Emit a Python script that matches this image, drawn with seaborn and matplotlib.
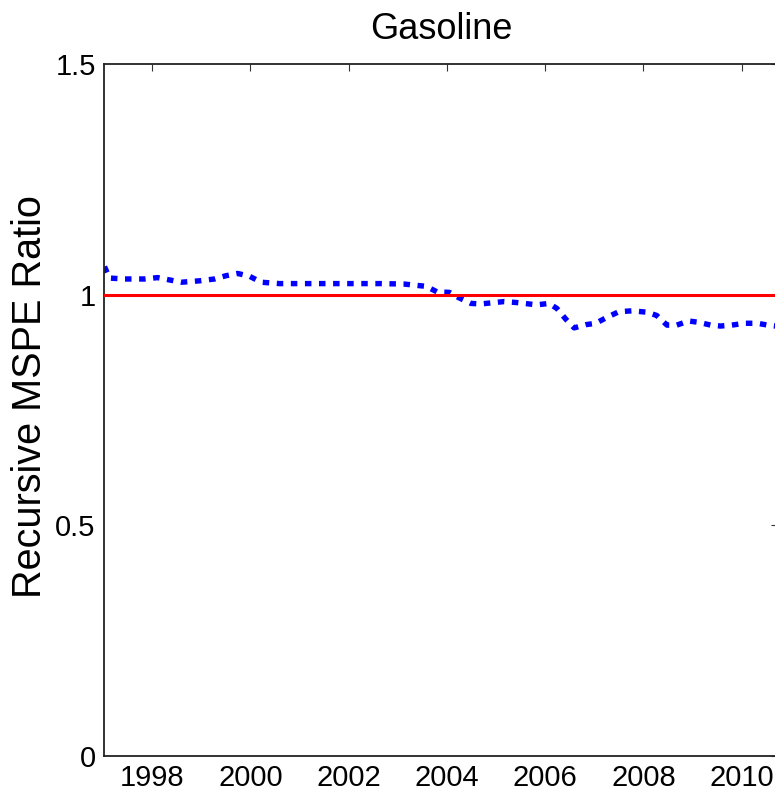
import matplotlib
matplotlib.use("Agg")
import matplotlib.pyplot as plt
import seaborn as sns
import pandas as pd

# ---- data ----
years = [1997.03, 1997.13, 1997.44, 1997.85, 1998.11, 1998.35, 1998.60, 1998.96,
         1999.27, 1999.50, 1999.74, 1999.98, 2000.22, 2000.59, 2000.99, 2001.40,
         2001.81, 2002.25, 2002.66, 2003.13, 2003.58, 2003.80, 2004.05, 2004.25,
         2004.49, 2004.70, 2005.16, 2005.41, 2005.83, 2006.08, 2006.24, 2006.42,
         2006.59, 2006.83, 2007.03, 2007.26, 2007.50, 2007.77, 2008.07, 2008.27,
         2008.48, 2008.68, 2008.92, 2009.13, 2009.37, 2009.57, 2009.80, 2010.06,
         2010.32, 2010.53, 2010.70]
mspe_ratio = [1.061, 1.036, 1.034, 1.034, 1.037, 1.032, 1.027, 1.030,
              1.034, 1.041, 1.046, 1.040, 1.027, 1.024, 1.024, 1.024,
              1.024, 1.024, 1.024, 1.023, 1.018, 1.006, 1.005, 0.993,
              0.981, 0.980, 0.985, 0.983, 0.978, 0.981, 0.970, 0.947,
              0.928, 0.935, 0.938, 0.951, 0.963, 0.965, 0.962, 0.955,
              0.934, 0.934, 0.943, 0.940, 0.934, 0.932, 0.934, 0.938,
              0.938, 0.934, 0.932]
benchmark = 1.0
x_ticks = [1998, 2000, 2002, 2004, 2006, 2008, 2010]
y_ticks = [0, 0.5, 1, 1.5]
y_tick_labels = ["0", "0.5", "1", "1.5"]
title = "Gasoline"
y_label = "Recursive MSPE Ratio"

df = pd.DataFrame({"year": years, "ratio": mspe_ratio})
x_lo, x_hi = 1997.02, 2010.70 + 0.04
bench_df = pd.DataFrame({"year": [x_lo, x_hi], "ratio": [benchmark, benchmark]})

sns.set_style("white")
plt.rcParams["font.family"] = ["Liberation Sans", "DejaVu Sans"]
plt.rcParams["text.color"] = "black"
plt.rcParams["axes.labelcolor"] = "black"
plt.rcParams["xtick.color"] = "black"
plt.rcParams["ytick.color"] = "black"

fig = plt.figure(figsize=(7.75, 7.92), dpi=100)
ax = fig.add_axes([104 / 775, 1 - 756 / 792, (778 - 104) / 775, (756 - 64) / 792])

sns.lineplot(data=df, x="year", y="ratio", ax=ax, color="#0000ff",
             linewidth=3.9, linestyle=(0, (1.2, 1.4)), dash_capstyle="butt",
             zorder=2)
sns.lineplot(data=bench_df, x="year", y="ratio", ax=ax, color="#ff0000",
             linewidth=2.2, zorder=3)

ax.set_xlim(x_lo, x_hi)
ax.set_ylim(0, 1.5)
ax.set_xticks(x_ticks)
ax.set_xticklabels([str(t) for t in x_ticks])
ax.set_yticks(y_ticks)
ax.set_yticklabels(y_tick_labels)
ax.tick_params(axis="both", direction="in", length=5, width=0.8,
               labelsize=21, labelcolor="black", top=True, right=True, pad=6)
ax.tick_params(axis="both", color="#333333")
for s in ax.spines.values():
    s.set_visible(True)
    s.set_color("#222222")
    s.set_linewidth(1.3)
ax.set_xlabel("")
ax.set_ylabel(y_label, fontsize=28.5, color="black", va="center")
ax.yaxis.set_label_coords(-0.110, 0.519)
ax.set_title(title, fontsize=26, pad=18, color="black")
ax.grid(False)

fig.savefig("out.png", dpi=100)
